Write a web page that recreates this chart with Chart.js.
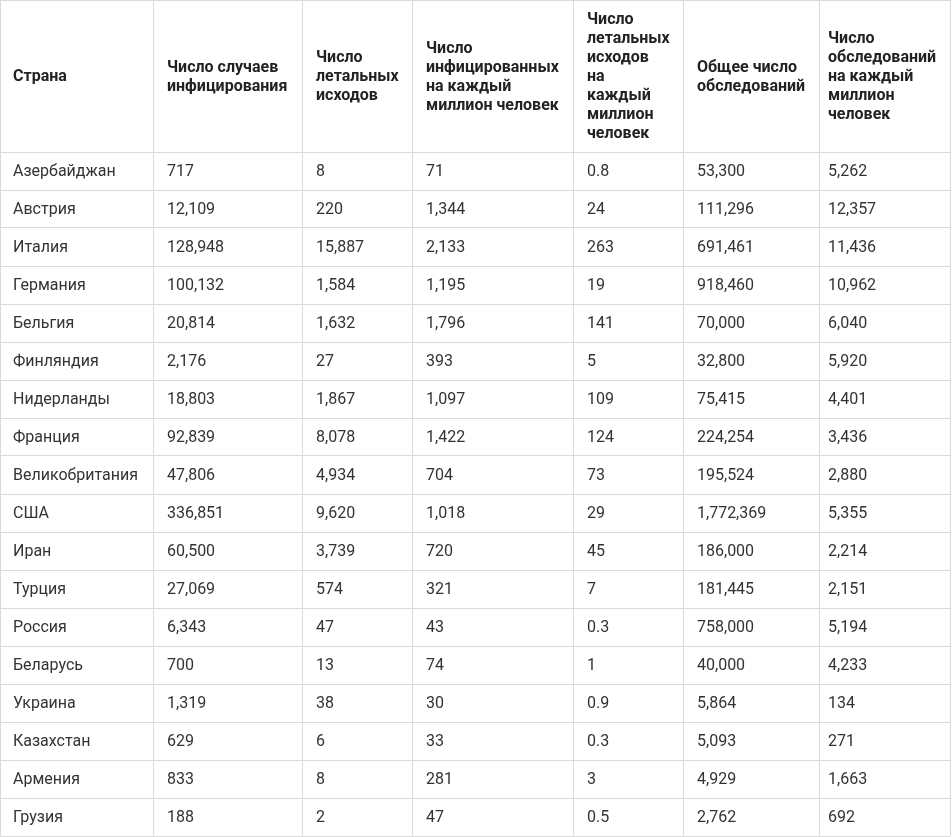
<!DOCTYPE html>
<html>
<head>
<meta charset="utf-8">
<script src="https://cdn.jsdelivr.net/npm/chart.js@4/dist/chart.umd.min.js"></script>
<style>
  body { margin: 0; background: #fff; }
  #wrap { width: 952px; height: 837px; }
</style>
</head>
<body>
<div id="wrap"><canvas id="table"></canvas></div>
<script>
// table content
const headers = [
    ['Страна'],
    ['Число случаев', 'инфицирования'],
    ['Число', 'летальных', 'исходов'],
    ['Число', 'инфицированных', 'на каждый', 'миллион человек'],
    ['Число', 'летальных', 'исходов', 'на', 'каждый', 'миллион', 'человек'],
    ['Общее число', 'обследований'],
    ['Число', 'обследований', 'на каждый', 'миллион', 'человек']
];
const countries = ['Азербайджан', 'Австрия', 'Италия', 'Германия', 'Бельгия', 'Финляндия', 'Нидерланды', 'Франция',
    'Великобритания', 'США', 'Иран', 'Турция', 'Россия', 'Беларусь', 'Украина', 'Казахстан', 'Армения', 'Грузия'];
const cases = [717, 12109, 128948, 100132, 20814, 2176, 18803, 92839, 47806, 336851, 60500, 27069, 6343, 700, 1319, 629, 833, 188];
const deaths = [8, 220, 15887, 1584, 1632, 27, 1867, 8078, 4934, 9620, 3739, 574, 47, 13, 38, 6, 8, 2];
const casesPerMillion = [71, 1344, 2133, 1195, 1796, 393, 1097, 1422, 704, 1018, 720, 321, 43, 74, 30, 33, 281, 47];
const deathsPerMillion = [0.8, 24, 263, 19, 141, 5, 109, 124, 73, 29, 45, 7, 0.3, 1, 0.9, 0.3, 3, 0.5];
const tests = [53300, 111296, 691461, 918460, 70000, 32800, 75415, 224254, 195524, 1772369, 186000, 181445, 758000, 40000, 5864, 5093, 4929, 2762];
const testsPerMillion = [5262, 12357, 11436, 10962, 6040, 5920, 4401, 3436, 2880, 5355, 2214, 2151, 5194, 4233, 134, 271, 1663, 692];

const columns = [countries, cases, deaths, casesPerMillion, deathsPerMillion, tests, testsPerMillion];

// layout: column edges on the x scale, header takes 4 row units
const colEdges = [0, 153, 302, 412, 573, 683, 819, 950];
const colPad = [13, 14, 14, 14, 14, 14, 9];
const headerRows = 4;
const rowEdges = [0];
for (let i = 0; i <= countries.length; i++) rowEdges.push(headerRows + i);

const fmt = v => typeof v === 'number' ? v.toLocaleString('en-US') : v;

const cellText = {
    id: 'cellText',
    afterDraw(chart) {
        const { ctx, scales: { x, y } } = chart;
        ctx.save();
        ctx.textBaseline = 'middle';
        ctx.textAlign = 'left';

        // header
        ctx.fillStyle = '#222';
        ctx.font = 'bold 16px Roboto';
        const lineH = 19;
        const headMid = (y.getPixelForValue(0) + y.getPixelForValue(headerRows)) / 2 + 1;
        headers.forEach((lines, c) => {
            const left = x.getPixelForValue(colEdges[c]) + colPad[c];
            const top = headMid - (lines.length - 1) * lineH / 2;
            lines.forEach((t, i) => ctx.fillText(t, left, top + i * lineH));
        });

        // body
        ctx.fillStyle = '#333';
        ctx.font = '16px Roboto';
        columns.forEach((col, c) => {
            const left = x.getPixelForValue(colEdges[c]) + colPad[c];
            col.forEach((v, r) => {
                ctx.fillText(fmt(v), left, y.getPixelForValue(headerRows + r + 0.5) + 1);
            });
        });
        ctx.restore();
    }
};

new Chart(document.getElementById('table'), {
    type: 'scatter',
    data: { datasets: [] },
    options: {
        responsive: true,
        maintainAspectRatio: false,
        animation: false,
        layout: { padding: { top: 0, left: 0, right: 2, bottom: 1 } },
        plugins: { legend: { display: false }, tooltip: { enabled: false } },
        scales: {
            x: {
                type: 'linear',
                min: colEdges[0],
                max: colEdges[colEdges.length - 1],
                afterBuildTicks: scale => { scale.ticks = colEdges.map(v => ({ value: v })); },
                ticks: { display: false },
                grid: { color: '#dadada', lineWidth: 1, drawTicks: false },
                border: { display: false }
            },
            y: {
                type: 'linear',
                reverse: true,
                min: 0,
                max: rowEdges[rowEdges.length - 1],
                afterBuildTicks: scale => { scale.ticks = rowEdges.map(v => ({ value: v })); },
                ticks: { display: false },
                grid: { color: '#dadada', lineWidth: 1, drawTicks: false },
                border: { display: false }
            }
        }
    },
    plugins: [cellText]
});
</script>
</body>
</html>
